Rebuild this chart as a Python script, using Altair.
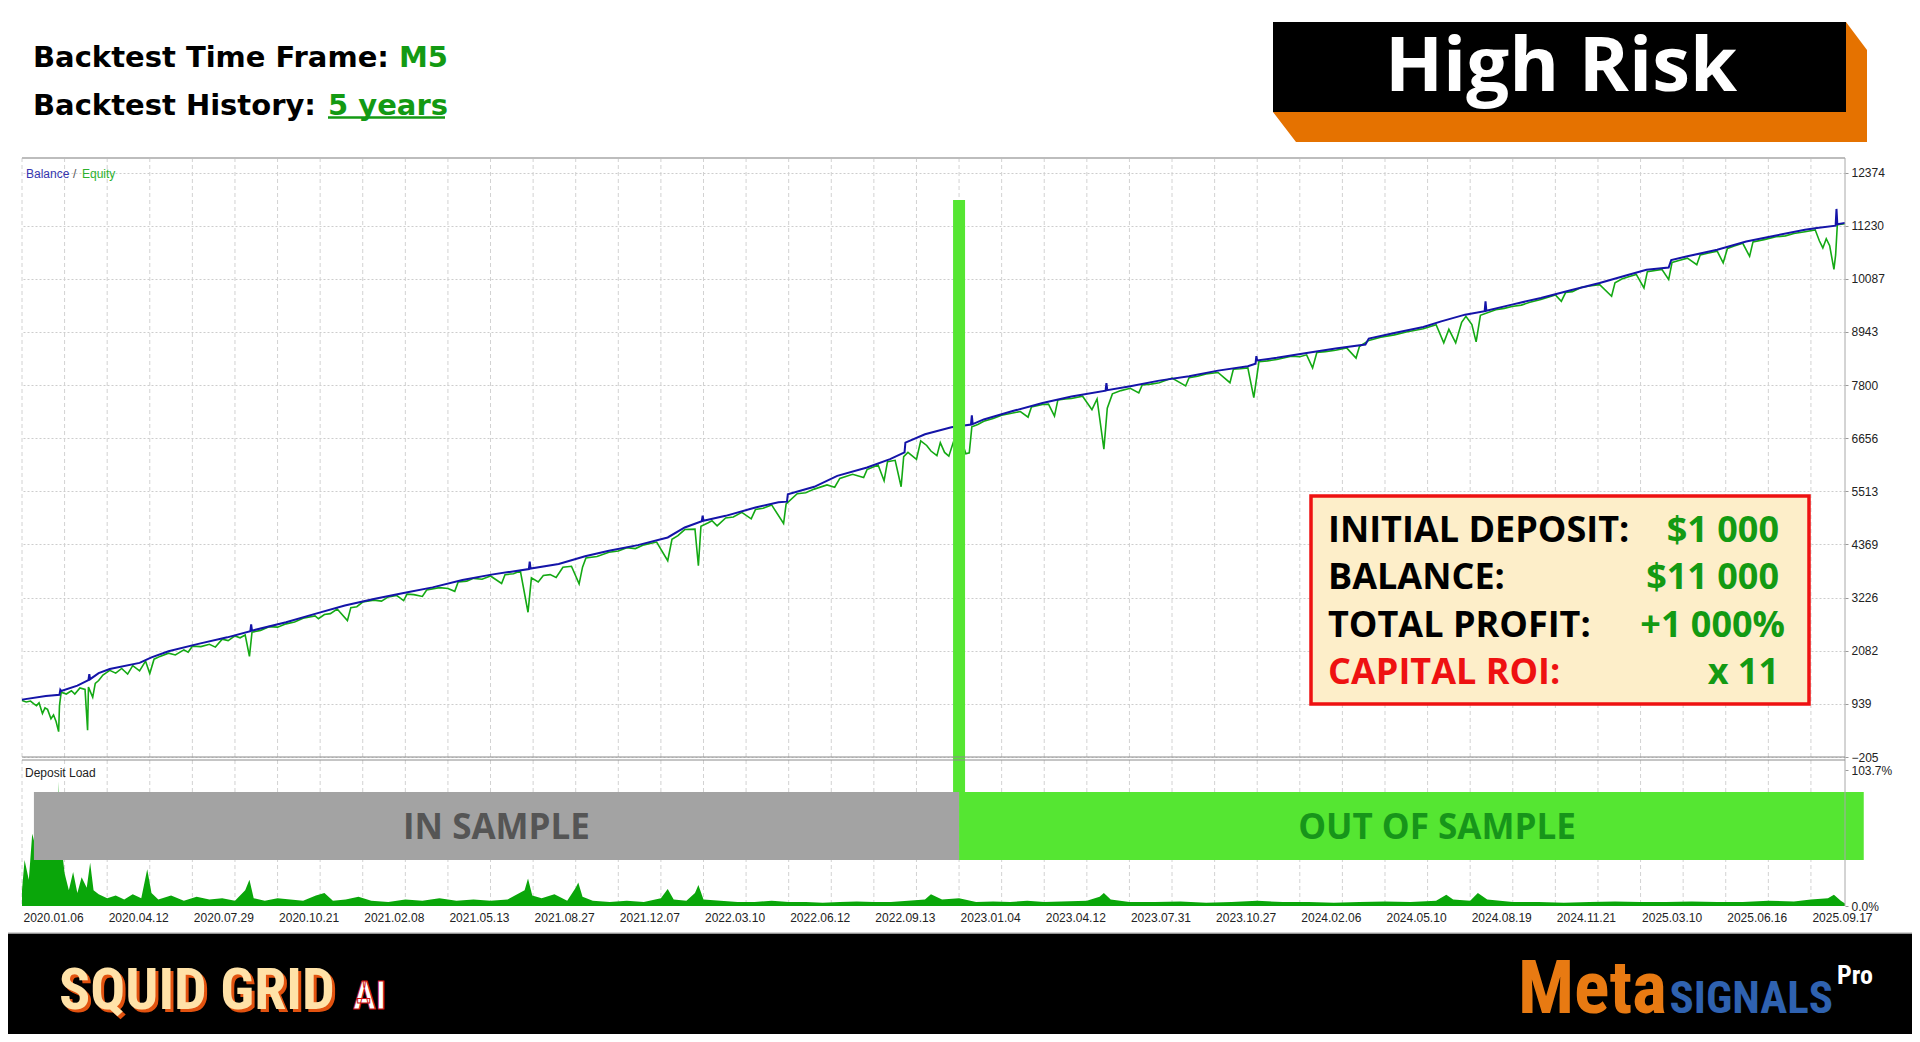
import json
import altair as alt
import pandas as pd

# ---------------- data ----------------
date_labels = ["2020.01.06", "2020.04.12", "2020.07.29", "2020.10.21", "2021.02.08",
               "2021.05.13", "2021.08.27", "2021.12.07", "2022.03.10", "2022.06.12",
               "2022.09.13", "2023.01.04", "2023.04.12", "2023.07.31", "2023.10.27",
               "2024.02.06", "2024.05.10", "2024.08.19", "2024.11.21", "2025.03.10",
               "2025.06.16", "2025.09.17"]

price_ticks = [-205, 939, 2082, 3226, 4369, 5513, 6656, 7800, 8943, 10087, 11230, 12374]
load_ticks = [0, 103.7]

# balance curve (x = date-label index, y = $)
balance_pts = [
    (0.00, 1030), (0.28, 1110), (0.44, 1135), (0.45, 1240), (0.46, 1215), (0.65, 1330),
    (0.78, 1450), (0.79, 1580), (0.80, 1470), (0.90, 1600), (1.03, 1690), (1.38, 1820),
    (1.52, 1940), (1.72, 2070), (2.07, 2230), (2.41, 2370), (2.68, 2500), (2.69, 2650),
    (2.70, 2515), (3.10, 2695), (3.44, 2875), (3.79, 3055), (4.13, 3195), (4.48, 3325),
    (4.82, 3445), (5.17, 3605), (5.51, 3720), (5.95, 3840), (5.96, 4000), (5.97, 3850),
    (6.30, 3950), (6.61, 4115), (6.89, 4235), (7.23, 4355), (7.58, 4520), (7.78, 4735),
    (7.98, 4870), (7.99, 4990), (8.00, 4880), (8.26, 4985), (8.61, 5165), (8.88, 5275),
    (8.98, 5290), (8.99, 5450), (9.30, 5610), (9.57, 5845), (9.92, 6025), (10.19, 6205),
    (10.36, 6350), (10.37, 6560), (10.60, 6740), (10.91, 6890), (11.14, 6950), (11.15, 7150),
    (11.16, 6960), (11.29, 7060), (11.63, 7240), (11.98, 7415), (12.32, 7555), (12.72, 7680),
    (12.73, 7840), (12.74, 7690), (13.01, 7775), (13.35, 7895), (13.70, 7990), (14.04, 8110),
    (14.39, 8205), (14.48, 8260), (14.49, 8420), (14.50, 8330), (14.73, 8385), (15.08, 8490),
    (15.42, 8585), (15.77, 8670), (15.81, 8800), (16.11, 8920), (16.45, 9050), (16.66, 9170),
    (16.94, 9315), (17.17, 9390), (17.18, 9600), (17.19, 9400), (17.49, 9530), (17.83, 9675),
    (18.18, 9840), (18.52, 9995), (18.86, 10175), (19.07, 10280), (19.33, 10330), (19.36, 10490),
    (19.55, 10570), (19.90, 10710), (20.24, 10890), (20.59, 11020), (20.93, 11140), (21.07, 11180),
    (21.29, 11230), (21.30, 11590), (21.31, 11260), (21.40, 11290),
]

# equity curve
equity_pts = [
    (0.00, 1010), (0.05, 980), (0.10, 1000), (0.14, 940), (0.17, 900), (0.20, 960), (0.24, 730),
    (0.27, 850), (0.30, 820), (0.34, 620), (0.37, 700), (0.40, 560), (0.43, 340), (0.44, 900),
    (0.46, 1190), (0.52, 1150), (0.58, 1220), (0.62, 1150), (0.68, 1280), (0.74, 1250), (0.77, 370),
    (0.78, 1300), (0.83, 1080), (0.86, 1380), (0.90, 1440), (0.95, 1560), (1.03, 1660), (1.10, 1600),
    (1.17, 1700), (1.24, 1580), (1.30, 1760), (1.38, 1650), (1.45, 1860), (1.50, 1590), (1.55, 1900),
    (1.62, 1960), (1.72, 2030), (1.80, 1990), (1.90, 2100), (1.95, 2050), (2.00, 2180), (2.10, 2170),
    (2.20, 2220), (2.27, 2160), (2.35, 2330), (2.42, 2300), (2.50, 2400), (2.56, 2360), (2.62, 2420),
    (2.67, 1960), (2.70, 2480), (2.80, 2520), (2.90, 2600), (3.00, 2590), (3.10, 2660), (3.20, 2700),
    (3.30, 2780), (3.44, 2830), (3.48, 2770), (3.55, 2860), (3.62, 2880), (3.70, 2980), (3.82, 2730),
    (3.86, 3010), (3.93, 3030), (4.00, 3130), (4.13, 3170), (4.22, 3150), (4.30, 3240), (4.40, 3270),
    (4.48, 3160), (4.52, 3300), (4.60, 3290), (4.70, 3250), (4.75, 3390), (4.90, 3440), (5.00, 3420),
    (5.08, 3360), (5.12, 3560), (5.22, 3580), (5.30, 3640), (5.40, 3620), (5.50, 3690), (5.63, 3530),
    (5.67, 3720), (5.77, 3740), (5.85, 3800), (5.94, 2910), (5.98, 3650), (6.06, 3560), (6.12, 3700),
    (6.20, 3720), (6.27, 3660), (6.35, 3880), (6.45, 3900), (6.54, 3520), (6.58, 3880), (6.62, 4080),
    (6.75, 4110), (6.89, 4200), (7.00, 4230), (7.10, 4300), (7.20, 4280), (7.30, 4360), (7.45, 4420),
    (7.58, 4020), (7.63, 4480), (7.70, 4560), (7.78, 4690), (7.90, 4700), (7.94, 3910), (7.97, 4760),
    (8.05, 4830), (8.10, 4880), (8.16, 4770), (8.26, 4940), (8.35, 4960), (8.45, 5060), (8.56, 4920),
    (8.61, 5120), (8.70, 5150), (8.80, 5220), (8.94, 4820), (8.97, 5240), (9.10, 5460), (9.20, 5480),
    (9.30, 5560), (9.45, 5650), (9.54, 5600), (9.60, 5790), (9.75, 5880), (9.88, 5810), (9.92, 5980),
    (10.05, 6080), (10.12, 5740), (10.16, 6150), (10.25, 6180), (10.32, 5610), (10.35, 6260),
    (10.40, 6350), (10.50, 6200), (10.55, 6600), (10.62, 6500), (10.67, 6380), (10.74, 6280),
    (10.78, 6560), (10.83, 6350), (10.88, 6270), (10.93, 6550), (10.98, 6380), (11.03, 6600),
    (11.08, 6320), (11.12, 6340), (11.15, 6900), (11.22, 6950), (11.29, 7020), (11.40, 7080),
    (11.50, 7150), (11.63, 7200), (11.72, 7230), (11.81, 7110), (11.85, 7330), (11.98, 7380),
    (12.05, 7390), (12.12, 7130), (12.16, 7480), (12.25, 7500), (12.32, 7510), (12.45, 7560),
    (12.56, 7270), (12.62, 7500), (12.70, 6420), (12.74, 7300), (12.80, 7610), (12.90, 7680),
    (13.01, 7730), (13.11, 7630), (13.15, 7800), (13.25, 7820), (13.35, 7850), (13.50, 7950),
    (13.66, 7780), (13.70, 7960), (13.80, 7990), (13.90, 8040), (14.04, 8070), (14.18, 7850),
    (14.22, 8140), (14.30, 8150), (14.39, 8170), (14.46, 7530), (14.52, 8300), (14.62, 8320),
    (14.73, 8350), (14.90, 8420), (15.00, 8410), (15.08, 8450), (15.15, 8170), (15.20, 8500),
    (15.30, 8520), (15.42, 8550), (15.55, 8600), (15.66, 8380), (15.70, 8630), (15.81, 8760),
    (15.95, 8830), (16.11, 8880), (16.25, 8940), (16.45, 9010), (16.60, 9100), (16.69, 8710),
    (16.75, 9000), (16.83, 8710), (16.90, 9150), (16.95, 9280), (17.02, 9100), (17.07, 8730),
    (17.12, 9300), (17.30, 9420), (17.40, 9450), (17.49, 9490), (17.60, 9520), (17.70, 9580),
    (17.83, 9640), (18.00, 9740), (18.07, 9600), (18.12, 9790), (18.20, 9810), (18.30, 9900),
    (18.40, 9930), (18.52, 9960), (18.66, 9710), (18.70, 10000), (18.78, 10080), (18.86, 10130),
    (18.95, 10180), (19.04, 9890), (19.08, 10240), (19.25, 10290), (19.33, 10070), (19.37, 10440),
    (19.45, 10480), (19.55, 10530), (19.66, 10390), (19.70, 10600), (19.80, 10640), (19.90, 10680),
    (19.97, 10430), (20.02, 10740), (20.10, 10790), (20.20, 10850), (20.28, 10570), (20.32, 10880),
    (20.45, 10930), (20.59, 10990), (20.70, 11010), (20.80, 11060), (20.93, 11100), (21.05, 11140),
    (21.10, 10900), (21.14, 10750), (21.18, 10950), (21.22, 10800), (21.27, 10290), (21.29, 10600),
    (21.31, 11250), (21.40, 11270),
]

# deposit load (%)
load_pts = [
    (0.00, 12), (0.03, 35), (0.08, 20), (0.12, 55), (0.18, 40), (0.24, 70), (0.30, 45), (0.36, 80),
    (0.40, 50), (0.42, 60), (0.43, 95), (0.44, 60), (0.50, 25), (0.55, 12), (0.60, 26), (0.65, 10),
    (0.70, 22), (0.76, 14), (0.80, 33), (0.84, 12), (0.90, 9), (1.00, 6), (1.10, 8), (1.20, 5),
    (1.30, 9), (1.40, 6), (1.47, 28), (1.52, 10), (1.60, 5), (1.75, 8), (1.90, 4), (2.05, 7),
    (2.20, 5), (2.35, 6), (2.50, 4), (2.62, 12), (2.67, 20), (2.72, 6), (2.85, 4), (3.00, 6),
    (3.15, 5), (3.30, 4), (3.45, 8), (3.55, 10), (3.65, 4), (3.80, 5), (3.95, 7), (4.10, 4),
    (4.30, 3), (4.50, 5), (4.70, 4), (4.90, 6), (5.10, 4), (5.30, 5), (5.50, 4), (5.70, 5),
    (5.90, 12), (5.94, 21), (5.99, 8), (6.10, 6), (6.25, 9), (6.40, 4), (6.50, 14), (6.53, 18),
    (6.58, 7), (6.70, 4), (6.90, 3), (7.10, 4), (7.30, 3), (7.50, 6), (7.58, 13), (7.65, 5),
    (7.80, 4), (7.90, 10), (7.94, 16), (8.00, 5), (8.20, 4), (8.40, 3), (8.60, 3), (8.80, 4),
    (9.00, 3), (9.20, 3), (9.40, 2.5), (9.60, 3), (9.80, 3.5), (10.00, 3), (10.20, 3), (10.40, 4),
    (10.60, 5), (10.67, 9), (10.80, 5), (11.00, 6), (11.20, 3), (11.40, 3.5), (11.60, 3),
    (11.80, 4), (12.00, 3), (12.20, 3.5), (12.50, 4), (12.65, 7), (12.70, 10), (12.78, 5),
    (13.00, 3), (13.30, 3), (13.60, 3.5), (13.90, 2.5), (14.20, 3), (14.50, 4), (14.80, 3),
    (15.10, 3), (15.40, 2.5), (15.70, 3), (16.00, 3.5), (16.30, 3), (16.60, 4), (16.72, 8.6),
    (16.80, 5), (17.00, 4), (17.09, 10), (17.20, 5), (17.50, 3), (17.80, 3), (18.10, 2.5),
    (18.40, 3), (18.70, 3.5), (19.00, 3), (19.30, 3), (19.60, 3.5), (19.90, 3), (20.20, 3),
    (20.50, 4), (20.80, 3.5), (21.00, 5), (21.20, 6), (21.27, 8.6), (21.35, 4), (21.40, 2),
]

sample_names = ["IN SAMPLE", "OUT OF SAMPLE"]
sample_start = [0.14, 11.0]
sample_end = [11.0, 21.62]
sample_label_at = [5.57, 16.61]
sample_fill = ["#A3A3A3", "#55E632"]
sample_text = ["#555555", "#17951A"]
split_at = [11.0]

info_labels = ["INITIAL DEPOSIT:", "BALANCE:", "TOTAL PROFIT:", "CAPITAL ROI:"]
info_values = ["$1 000", "$11 000", "+1 000%", "x 11"]
info_label_colors = ["#000000", "#000000", "#000000", "#EE1111"]

# ---------------- styling ----------------
W, H = 1823, 748
BLUE = "#1414A8"
EQ_GREEN = "#14A914"
LOAD_GREEN = "#0AA60A"
TXT_GREEN = "#139A13"
NARROW = "Liberation Sans Narrow, Roboto Condensed, Roboto"

x_scale = alt.Scale(domain=[0, 21.4], nice=False, zero=False)
price_scale = alt.Scale(domain=[-205, 12374], range=[599, 14.5], nice=False, zero=False)
load_scale = alt.Scale(domain=[0, 103.7], range=[748, 612], nice=False, zero=False)

x_tick_values = [i * 0.5 for i in range(43)]   # a grid line every half label step
label_expr = "datum.value % 1 === 0 ? " + json.dumps(date_labels) + "[datum.value] : ''"
x_axis = alt.Axis(values=x_tick_values, labelExpr=label_expr, grid=False,
                  domain=False, ticks=False,
                  labelAlign="left", labelBaseline="top", labelPadding=6, labelOffset=1,
                  labelFont="Liberation Sans", labelFontSize=12, labelColor="#222222",
                  labelOverlap=False, labelFlush=False, title=None)
price_axis = alt.Axis(orient="right", values=price_ticks, format="d", grid=True,
                      gridDash=[2, 2], gridColor="#CDCDCD", domain=False, tickSize=3,
                      tickColor="#9A9A9A", labelPadding=3, labelFont="Liberation Sans",
                      labelFontSize=12, labelColor="#222222", labelOverlap=False,
                      labelFlush=False, title=None)
load_axis = alt.Axis(orient="right", values=load_ticks, labelExpr="format(datum.value, '.1f') + '%'",
                     grid=False, domain=False, tickSize=3, tickColor="#9A9A9A", labelPadding=3,
                     labelFont="Liberation Sans", labelFontSize=12, labelColor="#222222",
                     labelOverlap=False, labelFlush=False, title=None)

bal_df = pd.DataFrame({"t": [p[0] for p in balance_pts], "v": [p[1] for p in balance_pts]})
eq_df = pd.DataFrame({"t": [p[0] for p in equity_pts], "v": [p[1] for p in equity_pts]})
load_df = pd.DataFrame({"t": [p[0] for p in load_pts], "d": [p[1] for p in load_pts]})
band_df = pd.DataFrame({"name": sample_names, "t0": sample_start, "t1": sample_end,
                        "tc": sample_label_at, "fill": sample_fill, "tcol": sample_text})
split_df = pd.DataFrame({"t": split_at})
grid_df = pd.DataFrame({"g": x_tick_values})
one = pd.DataFrame({"k": [0]})


def X(field):
    # every layer shares the same x scale and the same axis definition
    return alt.X(field, scale=x_scale, axis=x_axis)


# vertical grid lines through both panels
vgrid = alt.Chart(grid_df).mark_rule(color="#D2D2D2", strokeWidth=1, strokeDash=[4, 3]).encode(
    x=X("g:Q"), y=alt.value(0), y2=alt.value(H))

# ---------------- price panel ----------------
eq_line = alt.Chart(eq_df).mark_line(color=EQ_GREEN, strokeWidth=1.6).encode(
    x=X("t:Q"), y=alt.Y("v:Q", scale=price_scale, axis=price_axis))
bal_line = alt.Chart(bal_df).mark_line(color=BLUE, strokeWidth=2).encode(
    x=X("t:Q"), y=alt.Y("v:Q", scale=price_scale, axis=price_axis))
price_layer = alt.layer(eq_line, bal_line)

# ---------------- deposit load panel ----------------
load_area = alt.Chart(load_df).mark_area(color=LOAD_GREEN, opacity=1).encode(
    x=X("t:Q"), y=alt.Y("d:Q", scale=load_scale, axis=load_axis))
bands = alt.Chart(band_df).mark_rect().encode(
    x=X("t0:Q"), x2="t1:Q",
    y=alt.value(634), y2=alt.value(702),
    color=alt.Color("fill:N", scale=None))
band_text = alt.Chart(band_df).mark_text(font="Open Sans", fontWeight="bold", fontSize=35,
                                         baseline="alphabetic", align="center").encode(
    x=X("tc:Q"), y=alt.value(680.5),
    text="name:N", color=alt.Color("tcol:N", scale=None))
load_layer = alt.layer(load_area, bands, band_text)

split_bar = alt.Chart(split_df).mark_rule(color="#55E632", strokeWidth=12).encode(
    x=X("t:Q"), y=alt.value(42), y2=alt.value(634))


# ---------------- decorations ----------------
def hline(y, x0, x1, color, w):
    return alt.Chart(one).mark_rule(color=color, strokeWidth=w).encode(
        x=alt.value(x0), x2=alt.value(x1), y=alt.value(y))


def vline(x, y0, y1, color, w):
    return alt.Chart(one).mark_rule(color=color, strokeWidth=w).encode(
        x=alt.value(x), y=alt.value(y0), y2=alt.value(y1))


def box(x0, y0, x1, y1, fill, stroke=None, sw=0):
    kw = {"fill": fill, "opacity": 1}
    if stroke:
        kw.update(stroke=stroke, strokeWidth=sw)
    return alt.Chart(one).mark_rect(**kw).encode(
        x=alt.value(x0), x2=alt.value(x1), y=alt.value(y0), y2=alt.value(y1))


def txt(s, x, y, size, color, font="Open Sans", weight="bold", align="left",
        baseline="alphabetic", **kw):
    return alt.Chart(one).mark_text(text=s, font=font, fontSize=size, fontWeight=weight,
                                    color=color, align=align, baseline=baseline, **kw).encode(
        x=alt.value(x), y=alt.value(y))


decor = [
    # frame
    hline(0, 0, W, "#BDBDBD", 2),
    vline(W, 0, H, "#A8A8A8", 1),
    hline(599, 0, W, "#8C8C8C", 1.2),
    hline(602, 0, W, "#8C8C8C", 1.2),
    txt("Balance", 4, 16, 12, "#3535B0", font="Liberation Sans", weight="normal", baseline="middle"),
    txt("/", 51, 16, 12, "#555555", font="Liberation Sans", weight="normal", baseline="middle"),
    txt("Equity", 60, 16, 12, "#2DB12D", font="Liberation Sans", weight="normal", baseline="middle"),
    txt("Deposit Load", 3, 615, 12, "#222222", font="Liberation Sans", weight="normal", baseline="middle"),
    # info box
    box(1289, 338, 1787, 546, "#FDEEC9", "#EE1111", 3.5),
]
for i, (lab, val, lc) in enumerate(zip(info_labels, info_values, info_label_colors)):
    yb = 383.7 + i * 47.55
    decor.append(txt(lab, 1306, yb, 36, lc))
    decor.append(txt(val, 1763 if "%" in val else 1757, yb, 36, TXT_GREEN, align="right"))

decor += [
    # header
    txt("Backtest Time Frame:", 11, -90.7, 29, "#000000", font="DejaVu Sans"),
    txt("M5", 377, -90.7, 29, TXT_GREEN, font="DejaVu Sans"),
    txt("Backtest History:", 11, -43, 29, "#000000", font="DejaVu Sans"),
    txt("5 years", 306, -43, 29, TXT_GREEN, font="DejaVu Sans"),
    hline(-40.5, 306, 423, TXT_GREEN, 2.5),
    # High Risk badge
    alt.Chart(one).mark_point(shape="M573,0L594,28L594,120L23,120L0,90L573,90Z", size=4,
                              filled=True, color="#E57200", opacity=1, strokeWidth=0).encode(
        x=alt.value(1251), y=alt.value(-136)),
    box(1251, -136, 1824, -46, "#000000"),
    txt("High Risk", 1539, -67, 76, "#FFFFFF", align="center"),
    # footer
    box(-14, 775, 1890, 876, "#000000"),
    hline(775, -14, 1890, "#C4C4C4", 1.5),
    txt("SQUID GRID", 40, 854, 58, "#E2520F", font=NARROW),
    txt("SQUID GRID", 37, 851, 58, "#FFE2A8", font=NARROW),
    txt("AI", 331, 851, 38, "#FFFFFF", font=NARROW, stroke="#D01010", strokeWidth=1),
    txt("Meta", 1645, 855, 74, "#E87A12", font=NARROW, align="right"),
    txt("SIGNALS", 1811, 855, 45, "#2F62B0", font=NARROW, align="right"),
    txt("Pro", 1815, 826, 26, "#FFFFFF", font=NARROW),
]

chart = alt.layer(vgrid, price_layer, load_layer, split_bar, *decor).resolve_scale(
    y="independent"
).properties(
    width=W, height=H,
    padding={"left": 14, "top": 150, "right": 67, "bottom": 128},
    autosize=alt.AutoSizeParams(type="none"),
    background="#FFFFFF",
).configure_view(stroke=None)

chart.save("out.html", embed_options={"renderer": "svg", "actions": False})
